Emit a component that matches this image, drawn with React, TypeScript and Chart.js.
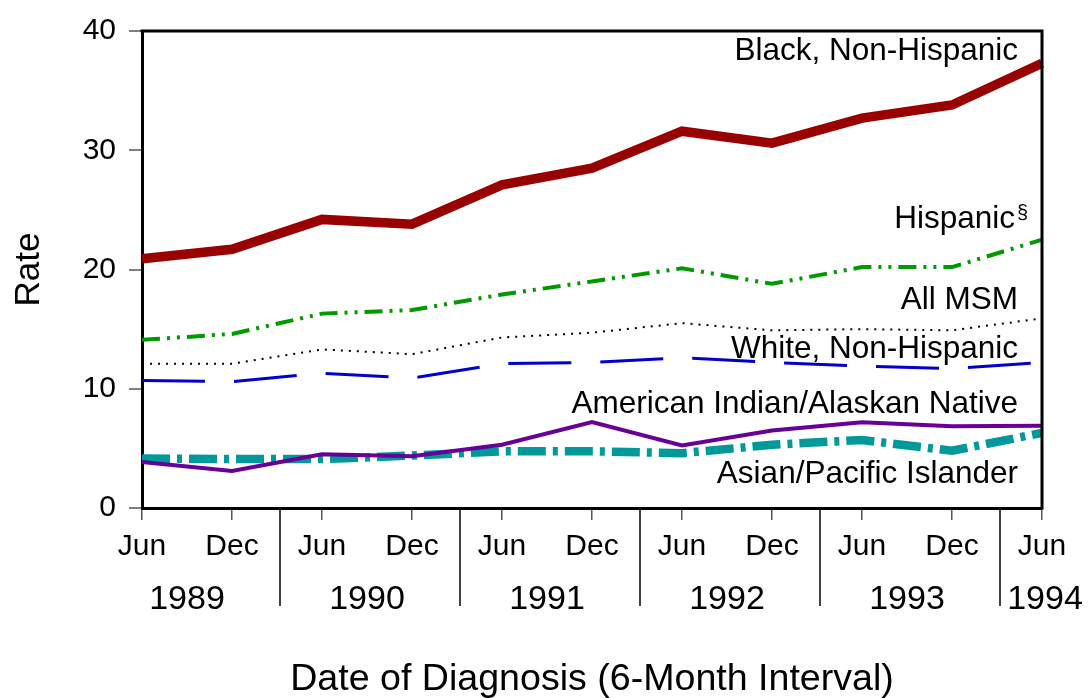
import React, { useEffect, useRef } from 'react';
import { Chart, registerables } from 'chart.js';

Chart.register(...registerables);

// ---- Data ----
const periods = ['Jun', 'Dec', 'Jun', 'Dec', 'Jun', 'Dec', 'Jun', 'Dec', 'Jun', 'Dec', 'Jun'];
const years = ['1989', '1990', '1991', '1992', '1993', '1994'];

const blackNonHispanic = [20.9, 21.7, 24.2, 23.8, 27.1, 28.5, 31.6, 30.6, 32.7, 33.8, 37.3];
const hispanic = [14.1, 14.6, 16.3, 16.6, 17.9, 19.0, 20.1, 18.8, 20.2, 20.2, 22.5];
const allMsm = [12.1, 12.1, 13.3, 12.9, 14.3, 14.7, 15.5, 14.9, 15.0, 14.9, 15.9];
const whiteNonHispanic = [10.7, 10.6, 11.3, 10.9, 12.1, 12.2, 12.6, 12.2, 11.9, 11.7, 12.2];
const amIndianAlaskan = [3.85, 3.1, 4.5, 4.35, 5.3, 7.2, 5.25, 6.5, 7.2, 6.85, 6.9];
const asianPacific = [4.15, 4.1, 4.1, 4.4, 4.75, 4.75, 4.6, 5.3, 5.7, 4.8, 6.3];

const seriesNames = [
  'Black, Non-Hispanic',
  'Hispanic',
  'All MSM',
  'White, Non-Hispanic',
  'American Indian/Alaskan Native',
  'Asian/Pacific Islander',
];

// label anchor (baseline) in axis units
const labelAnchors = [37.6, 23.45, 16.7, 12.55, 7.95, 2.1];

const FONT = "'Liberation Sans', Arial, Helvetica, sans-serif";

const decorPlugin = {
  id: 'decor',
  afterDraw(chart: any) {
    const { ctx, chartArea, scales } = chart;
    const xs = scales.x;
    const ys = scales.y;
    ctx.save();
    // frame top and right
    ctx.strokeStyle = '#000';
    ctx.lineWidth = 3;
    ctx.beginPath();
    ctx.moveTo(chartArea.left - 1.5, chartArea.top);
    ctx.lineTo(chartArea.right, chartArea.top);
    ctx.lineTo(chartArea.right, chartArea.bottom + 1.5);
    ctx.stroke();

    // year separators
    ctx.lineWidth = 1.5;
    ctx.strokeStyle = '#000';
    for (let i = 1; i + 1 < periods.length; i += 2) {
      const px = (xs.getPixelForValue(i) + xs.getPixelForValue(i + 1)) / 2 + 3;
      ctx.beginPath();
      ctx.moveTo(px, chartArea.bottom);
      ctx.lineTo(px, chartArea.bottom + 98);
      ctx.stroke();
    }

    // year labels
    ctx.fillStyle = '#000';
    ctx.font = `34px ${FONT}`;
    ctx.textAlign = 'center';
    ctx.textBaseline = 'alphabetic';
    years.forEach((yr, k) => {
      const i0 = k * 2;
      const i1 = Math.min(i0 + 1, periods.length - 1);
      const cx = (xs.getPixelForValue(i0) + xs.getPixelForValue(i1)) / 2 + (i0 === i1 ? 3 : 0);
      ctx.fillText(yr, cx, chartArea.bottom + 101);
    });

    // series labels
    const rightX = chartArea.right - 24;
    seriesNames.forEach((name, i) => {
      const py = ys.getPixelForValue(labelAnchors[i]);
      ctx.font = `31.5px ${FONT}`;
      ctx.textAlign = 'right';
      if (i === 1) {
        ctx.fillText(name, rightX - 3, py);
        ctx.font = `20px ${FONT}`;
        ctx.textAlign = 'left';
        ctx.fillText('§', rightX - 1, py - 9);
      } else {
        ctx.fillText(name, rightX, py);
      }
    });
    ctx.restore();
  },
};

export default function App() {
  const canvasRef = useRef<HTMLCanvasElement | null>(null);

  useEffect(() => {
    const canvas = canvasRef.current;
    if (!canvas) return;
    Chart.defaults.font.family = FONT;
    Chart.defaults.color = '#000';

    const chart = new Chart(canvas, {
      type: 'line',
      data: {
        labels: periods,
        datasets: [
          {
            label: seriesNames[0],
            data: blackNonHispanic,
            borderColor: '#990000',
            borderWidth: 9.5,
          },
          {
            label: seriesNames[1],
            data: hispanic,
            borderColor: '#009900',
            borderWidth: 4,
            borderDash: [18, 7, 3, 7, 3, 7],
          },
          {
            label: seriesNames[2],
            data: allMsm,
            borderColor: '#000000',
            borderWidth: 2,
            borderDash: [2, 6],
          },
          {
            label: seriesNames[3],
            data: whiteNonHispanic,
            borderColor: '#0000CC',
            borderWidth: 3,
            borderDash: [63, 29],
          },
          {
            label: seriesNames[4],
            data: amIndianAlaskan,
            borderColor: '#660099',
            borderWidth: 4,
          },
          {
            label: seriesNames[5],
            data: asianPacific,
            borderColor: '#009999',
            borderWidth: 8.5,
            borderDash: [28, 7, 5, 7],
          },
        ],
      },
      options: {
        responsive: false,
        animation: false,
        events: [],
        layout: { padding: { left: 0, right: 49, top: 28, bottom: 0 } },
        elements: {
          point: { radius: 0 },
          line: { tension: 0, fill: false },
        },
        plugins: {
          legend: { display: false },
          tooltip: { enabled: false },
          title: { display: false },
        },
        scales: {
          x: {
            type: 'category',
            offset: false,
            afterFit: (s: any) => {
              s.height = 190;
            },
            grid: {
              display: true,
              drawOnChartArea: false,
              drawTicks: true,
              tickLength: 12,
              color: '#555',
              lineWidth: 1.5,
            },
            border: { display: true, color: '#000', width: 3 },
            ticks: {
              font: { size: 30, family: FONT },
              color: '#000',
              padding: 9,
              maxRotation: 0,
              autoSkip: false,
            },
            title: {
              display: true,
              text: 'Date of Diagnosis (6-Month Interval)',
              font: { size: 37.6, family: FONT, lineHeight: 1.0 },
              color: '#000',
              padding: { top: 0, bottom: 0 },
            },
          },
          y: {
            min: 0,
            max: 40,
            afterFit: (s: any) => {
              s.width = 142;
            },
            ticks: {
              stepSize: 10,
              font: { size: 30, family: FONT },
              color: '#000',
              padding: 13,
            },
            grid: {
              display: true,
              drawOnChartArea: false,
              drawTicks: true,
              tickLength: 13,
              color: '#808080',
              lineWidth: 2,
            },
            border: { display: true, color: '#000', width: 3 },
            title: {
              display: true,
              text: 'Rate',
              font: { size: 35, family: FONT, lineHeight: 1 },
              color: '#000',
              padding: { top: 12, bottom: 0 },
            },
          },
        },
      },
      plugins: [decorPlugin],
    });
    return () => chart.destroy();
  }, []);

  return (
    <div style={{ position: 'fixed', left: 0, top: 0, width: 1091, height: 698, background: '#fff' }}>
      <canvas ref={canvasRef} width={1091} height={698} style={{ display: 'block' }} />
    </div>
  );
}
